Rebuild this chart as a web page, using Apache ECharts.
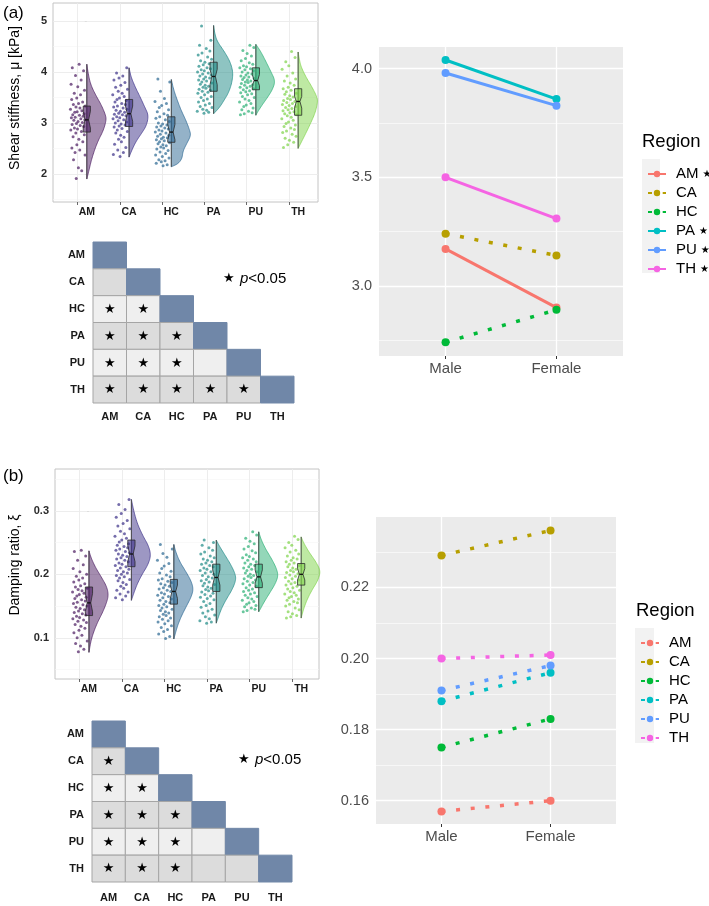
<!DOCTYPE html>
<html lang="en">
<head>
<meta charset="UTF-8">
<title>Regional shear stiffness and damping ratio</title>
<script src="https://cdn.jsdelivr.net/npm/echarts@6/dist/echarts.min.js"></script>
<style>
  html, body { margin: 0; padding: 0; background: #fff; }
  #chart { width: 709px; height: 906px; }
</style>
</head>
<body>
<div id="chart"></div>
<script>
// ---------------- data ----------------
var regions = ['AM', 'CA', 'HC', 'PA', 'PU', 'TH'];
var sexes = ['Male', 'Female'];

// (a) shear stiffness [kPa] - notched box stats
var stiffQ1 = [2.82, 2.93, 2.62, 3.62, 3.65, 3.15];
var stiffMed = [3.06, 3.18, 2.82, 3.91, 3.83, 3.42];
var stiffQ3 = [3.33, 3.46, 3.12, 4.19, 4.08, 3.67];
var stiffNotchLo = [2.90, 3.03, 2.67, 3.75, 3.73, 3.29];
var stiffNotchHi = [3.23, 3.33, 2.97, 4.05, 3.95, 3.52];
// half violin outline, top to bottom: [value, relative width]
var stiffViolin = [
  [[4.15,0],[3.95,0.08],[3.75,0.2],[3.55,0.45],[3.35,0.75],[3.15,0.97],[3.05,1],[2.85,0.85],[2.65,0.58],[2.45,0.38],[2.25,0.22],[2.05,0.1],[1.9,0]],
  [[4.08,0],[3.9,0.1],[3.7,0.32],[3.5,0.58],[3.3,0.82],[3.15,1],[2.95,0.9],[2.8,0.65],[2.65,0.38],[2.5,0.18],[2.33,0]],
  [[3.85,0],[3.65,0.12],[3.45,0.3],[3.25,0.5],[3.05,0.75],[2.85,0.95],[2.75,1],[2.6,0.8],[2.45,0.6],[2.3,0.55],[2.2,0.35],[2.14,0]],
  [[4.91,0],[4.75,0.06],[4.6,0.18],[4.4,0.55],[4.2,0.85],[4.0,1],[3.8,0.95],[3.6,0.78],[3.45,0.55],[3.3,0.3],[3.18,0]],
  [[4.54,0],[4.4,0.25],[4.2,0.52],[4.0,0.78],[3.82,1],[3.65,0.85],[3.5,0.6],[3.35,0.32],[3.22,0.1],[3.15,0]],
  [[4.39,0],[4.25,0.06],[4.1,0.15],[3.9,0.4],[3.7,0.72],[3.5,0.98],[3.4,1],[3.2,0.88],[3.0,0.65],[2.8,0.4],[2.65,0.2],[2.5,0]]
];
var stiffPoints = [
  [4.15,4.08,4.02,3.93,3.84,3.76,3.71,3.64,3.58,3.55,3.49,3.46,3.41,3.38,3.36,3.33,3.31,3.29,3.27,3.24,3.22,3.21,3.18,3.16,3.15,3.13,3.11,3.10,3.08,3.06,3.05,3.03,3.01,2.99,2.97,2.95,2.93,2.90,2.88,2.86,2.83,2.80,2.77,2.73,2.68,2.63,2.57,2.51,2.47,2.42,2.37,2.28,2.12,2.06,1.91],
  [4.08,3.98,3.92,3.88,3.84,3.79,3.74,3.70,3.66,3.62,3.58,3.55,3.52,3.49,3.46,3.44,3.41,3.38,3.36,3.33,3.31,3.29,3.27,3.25,3.23,3.21,3.19,3.17,3.16,3.14,3.12,3.10,3.08,3.06,3.04,3.02,3.00,2.98,2.96,2.94,2.92,2.89,2.86,2.83,2.80,2.76,2.72,2.68,2.63,2.58,2.52,2.47,2.42,2.38,2.34],
  [3.86,3.80,3.62,3.48,3.42,3.38,3.34,3.30,3.26,3.22,3.18,3.15,3.12,3.09,3.06,3.03,3.00,2.98,2.96,2.94,2.92,2.90,2.88,2.86,2.84,2.82,2.80,2.78,2.76,2.74,2.72,2.71,2.69,2.67,2.65,2.63,2.61,2.59,2.57,2.55,2.53,2.51,2.49,2.46,2.43,2.40,2.37,2.34,2.31,2.28,2.26,2.24,2.21,2.18,2.16],
  [4.90,4.62,4.52,4.46,4.41,4.37,4.33,4.29,4.25,4.22,4.19,4.16,4.14,4.11,4.08,4.06,4.04,4.02,4.00,3.98,3.96,3.94,3.92,3.90,3.88,3.86,3.84,3.82,3.80,3.78,3.76,3.74,3.72,3.70,3.68,3.66,3.64,3.62,3.60,3.58,3.55,3.52,3.50,3.47,3.44,3.41,3.38,3.35,3.32,3.30,3.27,3.25,3.23,3.21,3.19],
  [4.52,4.48,4.42,4.36,4.31,4.26,4.22,4.18,4.15,4.12,4.10,4.08,4.06,4.04,4.02,4.00,3.98,3.96,3.94,3.92,3.90,3.89,3.87,3.85,3.84,3.82,3.80,3.79,3.77,3.75,3.74,3.72,3.70,3.69,3.67,3.65,3.63,3.61,3.59,3.57,3.55,3.52,3.50,3.47,3.44,3.41,3.38,3.35,3.32,3.29,3.26,3.23,3.20,3.18,3.16],
  [4.40,4.28,4.20,4.12,4.05,3.98,3.92,3.86,3.82,3.78,3.74,3.70,3.67,3.64,3.61,3.58,3.56,3.53,3.51,3.48,3.46,3.44,3.42,3.40,3.38,3.36,3.34,3.32,3.30,3.28,3.26,3.24,3.22,3.20,3.18,3.16,3.14,3.11,3.08,3.05,3.02,2.99,2.96,2.93,2.90,2.87,2.84,2.81,2.78,2.74,2.70,2.66,2.62,2.57,2.52]
];
var stiffMale = [3.17, 3.24, 2.74, 4.04, 3.98, 3.50];
var stiffFemale = [2.90, 3.14, 2.89, 3.86, 3.83, 3.31];
var stiffSexSig = [true, false, false, true, true, true];
// lower triangle of pairwise tests (row vs earlier columns), 1 = p<0.05
var stiffPairSig = [[], [0], [1, 1], [1, 1, 1], [1, 1, 1, 0], [1, 1, 1, 1, 1]];

// (b) damping ratio
var dampQ1 = [0.135, 0.212, 0.153, 0.173, 0.179, 0.183];
var dampMed = [0.155, 0.232, 0.173, 0.195, 0.196, 0.200];
var dampQ3 = [0.180, 0.254, 0.192, 0.216, 0.216, 0.217];
var dampNotchLo = [0.141, 0.220, 0.162, 0.183, 0.186, 0.191];
var dampNotchHi = [0.170, 0.245, 0.183, 0.207, 0.207, 0.209];
var dampViolin = [
  [[0.237,0],[0.225,0.12],[0.21,0.35],[0.195,0.65],[0.18,0.92],[0.167,1],[0.155,0.9],[0.14,0.7],[0.125,0.45],[0.11,0.25],[0.095,0.1],[0.077,0]],
  [[0.318,0],[0.30,0.12],[0.28,0.3],[0.26,0.6],[0.245,0.88],[0.23,1],[0.215,0.85],[0.20,0.55],[0.185,0.3],[0.17,0.12],[0.159,0]],
  [[0.247,0],[0.235,0.1],[0.22,0.3],[0.205,0.6],[0.19,0.88],[0.177,1],[0.165,0.9],[0.15,0.65],[0.135,0.4],[0.12,0.2],[0.105,0.06],[0.098,0]],
  [[0.254,0],[0.245,0.15],[0.23,0.45],[0.215,0.75],[0.20,0.98],[0.19,1],[0.175,0.8],[0.16,0.5],[0.145,0.25],[0.13,0.08],[0.123,0]],
  [[0.267,0],[0.255,0.12],[0.24,0.35],[0.225,0.65],[0.21,0.9],[0.198,1],[0.185,0.85],[0.17,0.55],[0.155,0.25],[0.145,0.08],[0.141,0]],
  [[0.259,0],[0.25,0.12],[0.235,0.4],[0.22,0.75],[0.205,1],[0.19,0.85],[0.175,0.55],[0.16,0.3],[0.145,0.12],[0.131,0]]
];
var dampPoints = [
  [0.238,0.236,0.229,0.222,0.215,0.209,0.204,0.200,0.197,0.194,0.191,0.188,0.185,0.182,0.180,0.178,0.176,0.174,0.172,0.170,0.168,0.166,0.164,0.162,0.160,0.158,0.156,0.154,0.152,0.150,0.148,0.146,0.144,0.142,0.140,0.138,0.136,0.134,0.132,0.130,0.128,0.126,0.124,0.121,0.118,0.115,0.112,0.108,0.104,0.100,0.095,0.091,0.087,0.082,0.078],
  [0.318,0.310,0.302,0.296,0.290,0.285,0.280,0.276,0.272,0.268,0.264,0.260,0.257,0.254,0.251,0.248,0.246,0.244,0.242,0.240,0.238,0.236,0.234,0.232,0.230,0.228,0.226,0.224,0.222,0.220,0.218,0.216,0.214,0.212,0.210,0.208,0.206,0.204,0.202,0.200,0.198,0.196,0.194,0.192,0.190,0.187,0.184,0.181,0.178,0.175,0.172,0.169,0.166,0.163,0.160],
  [0.247,0.240,0.233,0.227,0.222,0.217,0.213,0.209,0.205,0.202,0.199,0.196,0.193,0.191,0.189,0.187,0.185,0.183,0.181,0.179,0.177,0.175,0.173,0.171,0.169,0.167,0.165,0.163,0.161,0.159,0.157,0.155,0.153,0.151,0.149,0.147,0.145,0.143,0.141,0.139,0.137,0.135,0.133,0.131,0.129,0.127,0.125,0.122,0.119,0.116,0.113,0.110,0.106,0.102,0.099],
  [0.254,0.250,0.246,0.242,0.238,0.235,0.232,0.229,0.226,0.224,0.222,0.220,0.218,0.216,0.214,0.212,0.210,0.208,0.206,0.204,0.202,0.200,0.198,0.196,0.194,0.192,0.190,0.188,0.186,0.184,0.182,0.180,0.178,0.176,0.174,0.172,0.170,0.168,0.166,0.164,0.162,0.160,0.157,0.154,0.151,0.148,0.145,0.142,0.139,0.136,0.133,0.130,0.127,0.125,0.123],
  [0.267,0.262,0.257,0.252,0.248,0.244,0.240,0.237,0.234,0.231,0.228,0.226,0.224,0.222,0.220,0.218,0.216,0.214,0.212,0.210,0.208,0.206,0.204,0.202,0.200,0.198,0.197,0.195,0.193,0.191,0.189,0.187,0.185,0.183,0.181,0.179,0.177,0.175,0.173,0.171,0.169,0.167,0.165,0.163,0.161,0.159,0.157,0.155,0.153,0.151,0.149,0.147,0.145,0.143,0.141],
  [0.260,0.255,0.250,0.246,0.242,0.238,0.235,0.232,0.229,0.226,0.224,0.222,0.220,0.218,0.216,0.214,0.212,0.210,0.208,0.206,0.204,0.203,0.201,0.199,0.197,0.195,0.193,0.191,0.189,0.187,0.185,0.183,0.181,0.179,0.177,0.175,0.173,0.171,0.169,0.167,0.165,0.163,0.161,0.159,0.157,0.155,0.153,0.150,0.147,0.144,0.141,0.138,0.135,0.133,0.131]
];
var dampMale = [0.157, 0.229, 0.175, 0.188, 0.191, 0.200];
var dampFemale = [0.160, 0.236, 0.183, 0.196, 0.198, 0.201];
var dampSexSig = [false, false, false, false, false, false];
var dampPairSig = [[], [1], [1, 1], [1, 1, 1], [1, 1, 1, 0], [1, 1, 1, 0, 0]];

// ---------------- styling ----------------
var rainColors = ['#4A1A60', '#3B2F88', '#2A6692', '#1E8A86', '#29AF74', '#7ED348'];
var hueColors = ['#F8766D', '#B79F00', '#00BA38', '#00BFC4', '#619CFF', '#F564E3'];
// hand-typed horizontal jitter for the raw points (fraction of the cloud width)
var jitter = [0.42,0.87,0.13,0.66,0.29,0.95,0.51,0.07,0.74,0.33,0.58,0.91,0.19,0.46,0.80,0.02,0.63,0.37,0.99,0.24,
  0.55,0.71,0.10,0.84,0.40,0.16,0.68,0.93,0.31,0.05,0.77,0.49,0.21,0.60,0.88,0.35,0.12,0.73,0.53,0.97,
  0.27,0.64,0.08,0.82,0.44,0.18,0.57,0.90,0.38,0.69,0.03,0.79,0.47,0.25,0.61];
var VIOLIN_W = 0.46, BOX_W = 0.085;
var FONT = '"Liberation Sans", Arial, sans-serif';

function rgba(hex, a) {
  var n = parseInt(hex.slice(1), 16);
  return 'rgba(' + (n >> 16) + ',' + ((n >> 8) & 255) + ',' + (n & 255) + ',' + a + ')';
}

// corner cutting, only used to round the violin outline when drawing
function chaikin(pts, iter) {
  for (var k = 0; k < iter; k++) {
    var out = [pts[0]];
    for (var j = 0; j < pts.length - 1; j++) {
      var a = pts[j], b = pts[j + 1];
      out.push([0.75 * a[0] + 0.25 * b[0], 0.75 * a[1] + 0.25 * b[1]]);
      out.push([0.25 * a[0] + 0.75 * b[0], 0.25 * a[1] + 0.75 * b[1]]);
    }
    out.push(pts[pts.length - 1]);
    pts = out;
  }
  return pts;
}

function gridLineSeries(idx, lines) {
  return {
    type: 'line', xAxisIndex: idx, yAxisIndex: idx, data: [], silent: true, z: 1,
    markLine: { silent: true, z: 1, symbol: 'none', animation: false, label: { show: false }, data: lines }
  };
}

function rainSeries(idx, S, majors, minors) {
  var list = [];
  var lines = [];
  majors.forEach(function (v) { lines.push({ yAxis: v, lineStyle: { color: '#EBEBEB', width: 0.9, type: 'solid' } }); });
  minors.forEach(function (v) { lines.push({ yAxis: v, lineStyle: { color: '#F5F5F5', width: 0.6, type: 'solid' } }); });
  regions.forEach(function (r, i) { lines.push({ xAxis: i - 0.22, lineStyle: { color: '#EBEBEB', width: 0.9, type: 'solid' } }); });
  list.push(gridLineSeries(idx, lines));

  S.points.forEach(function (vals, g) {
    list.push({
      type: 'scatter', xAxisIndex: idx, yAxisIndex: idx, z: 2, silent: true,
      symbolSize: 3, itemStyle: { color: rainColors[g], opacity: 0.7 },
      data: vals.map(function (v, k) { return [g - 0.03 - 0.36 * jitter[(k + 7 * g) % jitter.length], v]; })
    });
  });

  list.push({
    type: 'custom', xAxisIndex: idx, yAxisIndex: idx, z: 3, silent: true,
    data: regions.map(function (r, i) { return [i, S.med[i]]; }),
    renderItem: function (params, api) {
      var i = params.dataIndex, col = rainColors[i];
      var prof = S.violin[i];
      var outline = chaikin(prof.map(function (p) { return api.coord([i + p[1] * VIOLIN_W, p[0]]); }), 3);
      var top = api.coord([i, prof[0][0]]), bot = api.coord([i, prof[prof.length - 1][0]]);
      var hb = BOX_W, hn = BOX_W * 0.5;
      var box = [[i - hb, S.q3[i]], [i + hb, S.q3[i]], [i + hb, S.hi[i]], [i + hn, S.med[i]], [i + hb, S.lo[i]],
        [i + hb, S.q1[i]], [i - hb, S.q1[i]], [i - hb, S.lo[i]], [i - hn, S.med[i]], [i - hb, S.hi[i]]]
        .map(function (p) { return api.coord(p); });
      var m0 = api.coord([i - hn, S.med[i]]), m1 = api.coord([i + hn, S.med[i]]);
      return {
        type: 'group', children: [
          { type: 'polygon', shape: { points: outline }, style: { fill: rgba(col, 0.5), stroke: rgba(col, 0.85), lineWidth: 0.8 } },
          { type: 'line', shape: { x1: top[0], y1: top[1], x2: bot[0], y2: bot[1] }, style: { stroke: '#505050', lineWidth: 1 } },
          { type: 'polygon', shape: { points: box }, style: { fill: rgba(col, 0.6), stroke: '#2b2b2b', lineWidth: 0.8 } },
          { type: 'line', shape: { x1: m0[0], y1: m0[1], x2: m1[0], y2: m1[1] }, style: { stroke: '#111', lineWidth: 1.3 } }
        ]
      };
    }
  });
  return list;
}

function sexSeries(idx, suffix, male, female, sig, majors, minors) {
  var list = [];
  var lines = [];
  majors.forEach(function (v) { lines.push({ yAxis: v, lineStyle: { color: '#fff', width: 1.3, type: 'solid' } }); });
  minors.forEach(function (v) { lines.push({ yAxis: v, lineStyle: { color: '#fff', width: 0.6, type: 'solid' } }); });
  [0, 1].forEach(function (v) { lines.push({ xAxis: v, lineStyle: { color: '#fff', width: 1.3, type: 'solid' } }); });
  list.push(gridLineSeries(idx, lines));
  regions.forEach(function (r, i) {
    list.push({
      name: r + suffix, type: 'line', xAxisIndex: idx, yAxisIndex: idx, z: 3,
      symbol: 'circle', symbolSize: 8, silent: true,
      itemStyle: { color: hueColors[i], borderWidth: 0, opacity: 1 },
      lineStyle: { color: hueColors[i], width: sig[i] ? 3 : 3.5, type: sig[i] ? 'solid' : [4, 10.7], cap: 'butt' },
      data: [[0, male[i]], [1, female[i]]]
    });
  });
  return list;
}

function pairCells(sig) {
  var out = [];
  for (var r = 0; r < regions.length; r++) {
    for (var c = 0; c <= r; c++) {
      var kind = c === r ? 0 : (r % 2 === 1 ? 1 : 2);
      out.push([c, r, kind, c < r && sig[r][c] ? 1 : 0]);
    }
  }
  return out;
}

function cellSeries(idx, sig) {
  return {
    type: 'custom', xAxisIndex: idx, yAxisIndex: idx, silent: true,
    data: pairCells(sig),
    renderItem: function (params, api) {
      var p = api.coord([api.value(0), api.value(1)]);
      var s = api.size([1, 1]);
      var kind = api.value(2);
      var fill = kind === 0 ? '#7087A8' : (kind === 1 ? '#DCDCDC' : '#EFEFEF');
      var kids = [{
        type: 'rect', shape: { x: p[0] - s[0] / 2, y: p[1] - s[1] / 2, width: s[0], height: s[1] },
        style: { fill: fill, stroke: kind === 0 ? '#7087A8' : '#A5A5A5', lineWidth: 1 }
      }];
      if (api.value(3)) {
        kids.push({ type: 'text', x: p[0], y: p[1] + 0.5,
          style: { text: '\u2605', fill: '#000', font: '13px "DejaVu Sans"', align: 'center', verticalAlign: 'middle', textAlign: 'center', textVerticalAlign: 'middle' } });
      }
      return { type: 'group', children: kids };
    }
  };
}

// ---------------- axes ----------------
function rainX(idx) {
  return {
    gridIndex: idx, type: 'value', min: -0.8, max: idx === 0 ? 5.47 : 5.42,
    axisLine: { show: false }, splitLine: { show: false },
    axisTick: { show: true, customValues: regions.map(function (r, i) { return i - 0.22; }), length: 3, lineStyle: { color: '#444', width: 0.8 } },
    axisLabel: { customValues: [0, 1, 2, 3, 4, 5], formatter: function (v) { return regions[Math.round(v)]; },
      color: '#1a1a1a', fontSize: 10.5, fontWeight: 'bold', margin: 5, fontFamily: FONT }
  };
}
function rainY(idx, min, max, labels) {
  return {
    gridIndex: idx, type: 'value', min: min, max: max,
    axisLine: { show: false }, splitLine: { show: false },
    axisTick: { show: true, customValues: labels, length: 2, lineStyle: { color: '#444', width: 0.8 } },
    axisLabel: { customValues: labels, formatter: function (v) { return String(v); },
      color: '#2a2a2a', fontSize: 11, fontWeight: 'bold', margin: 6, fontFamily: FONT }
  };
}
function sexX(idx) {
  return {
    gridIndex: idx, type: 'value', min: -0.6, max: 1.6,
    axisLine: { show: false }, splitLine: { show: false },
    axisTick: { show: true, customValues: [0, 1], length: 3, lineStyle: { color: '#333' } },
    axisLabel: { customValues: [0, 1], formatter: function (v) { return sexes[Math.round(v)]; },
      color: '#4D4D4D', fontSize: 15, margin: 5, fontFamily: FONT }
  };
}
function sexY(idx, min, max, labels, digits) {
  return {
    gridIndex: idx, type: 'value', min: min, max: max,
    axisLine: { show: false }, splitLine: { show: false },
    axisTick: { show: true, customValues: labels, length: 3, lineStyle: { color: '#333' } },
    axisLabel: { customValues: labels, formatter: function (v) { return v.toFixed(digits); },
      color: '#4D4D4D', fontSize: 14.5, margin: 7, fontFamily: FONT }
  };
}
function pairX(idx, margin) {
  return {
    gridIndex: idx, type: 'category', data: regions, position: 'bottom',
    axisLine: { show: false }, axisTick: { show: false }, splitLine: { show: false },
    axisLabel: { color: '#1a1a1a', fontSize: 11, fontWeight: 'bold', margin: margin, fontFamily: FONT }
  };
}
function pairY(idx) {
  return {
    gridIndex: idx, type: 'category', data: regions, inverse: true,
    axisLine: { show: false }, axisTick: { show: false }, splitLine: { show: false },
    axisLabel: { color: '#1a1a1a', fontSize: 11, fontWeight: 'bold', margin: 8, fontFamily: FONT }
  };
}

function legendFor(suffix, sig, left, top) {
  return {
    data: regions.map(function (r) { return r + suffix; }),
    orient: 'vertical', left: left, top: top, itemWidth: 18, itemHeight: 8, itemGap: 4,
    selectedMode: false, z: 5,
    formatter: function (name) {
      var i = regions.indexOf(name.split('_')[0]);
      return '{n|' + regions[i] + '}' + (sig[i] ? '{s|\u2605}' : '');
    },
    textStyle: {
      fontSize: 15, lineHeight: 15, color: '#000', fontFamily: FONT,
      rich: {
        n: { fontSize: 15, lineHeight: 15, color: '#000', fontFamily: FONT, padding: [0, 0, 0, 5] },
        s: { fontSize: 10, lineHeight: 15, color: '#000', fontFamily: '"DejaVu Sans"', padding: [0, 0, 0, 4] }
      }
    }
  };
}

function txt(x, y, text, font, extra) {
  var o = { type: 'text', x: x, y: y, silent: true,
    style: { text: text, font: font, fill: '#000', align: 'left', verticalAlign: 'middle', textAlign: 'left', textVerticalAlign: 'middle' } };
  if (extra) { for (var k in extra) { o[k] = extra[k]; } }
  return o;
}
function vtxt(x, y, text) {
  return { type: 'text', x: x, y: y, rotation: Math.PI / 2, silent: true,
    style: { text: text, font: '14px ' + FONT, fill: '#000', align: 'center', verticalAlign: 'middle', textAlign: 'center', textVerticalAlign: 'middle' } };
}
function pLegend(x, y) {
  return [
    txt(x - 6, y, '\u2605', '13px "DejaVu Sans"'),
    { type: 'text', x: x + 11, y: y, silent: true,
      style: { text: '{i|p}<0.05', font: '15px ' + FONT, fill: '#000', verticalAlign: 'middle', textVerticalAlign: 'middle',
        rich: { i: { fontStyle: 'italic', fontSize: 15, fontFamily: FONT, fill: '#000' } } } }
  ];
}

var stiffStats = { q1: stiffQ1, med: stiffMed, q3: stiffQ3, lo: stiffNotchLo, hi: stiffNotchHi, violin: stiffViolin, points: stiffPoints };
var dampStats = { q1: dampQ1, med: dampMed, q3: dampQ3, lo: dampNotchLo, hi: dampNotchHi, violin: dampViolin, points: dampPoints };

var option = {
  animation: false,
  backgroundColor: '#fff',
  textStyle: { fontFamily: FONT },
  grid: [
    { left: 53, top: 3, width: 265, height: 199, show: true, backgroundColor: '#fff', borderColor: '#C4C4C4', borderWidth: 1, outerBoundsMode: 'none' },
    { left: 379, top: 47, width: 244, height: 309, show: true, backgroundColor: '#EBEBEB', borderWidth: 0, outerBoundsMode: 'none' },
    { left: 55, top: 469, width: 264, height: 210, show: true, backgroundColor: '#fff', borderColor: '#C4C4C4', borderWidth: 1, outerBoundsMode: 'none' },
    { left: 376, top: 517, width: 240, height: 307, show: true, backgroundColor: '#EBEBEB', borderWidth: 0, outerBoundsMode: 'none' },
    { left: 93, top: 242, width: 201, height: 161, outerBoundsMode: 'none' },
    { left: 92, top: 721, width: 200, height: 161, outerBoundsMode: 'none' }
  ],
  xAxis: [rainX(0), sexX(1), rainX(2), sexX(3), pairX(4, 8), pairX(5, 10)],
  yAxis: [
    rainY(0, 1.45, 5.35, [2, 3, 4, 5]),
    sexY(1, 2.677, 4.10, [3.0, 3.5, 4.0], 1),
    rainY(2, 0.035, 0.366, [0.1, 0.2, 0.3]),
    sexY(3, 0.15345, 0.2398, [0.16, 0.18, 0.20, 0.22], 2),
    pairY(4),
    pairY(5)
  ],
  legend: [
    legendFor('_a', stiffSexSig, 642, 161.5),
    legendFor('_b', dampSexSig, 635, 630.5)
  ],
  graphic: [
    { type: 'rect', z: 0, silent: true, shape: { x: 642, y: 159, width: 18, height: 114 }, style: { fill: '#F2F2F2' } },
    { type: 'rect', z: 0, silent: true, shape: { x: 635, y: 628, width: 19, height: 115 }, style: { fill: '#F2F2F2' } },
    txt(3, 13, '(a)', '17px ' + FONT),
    txt(3, 476, '(b)', '17px ' + FONT),
    vtxt(15, 98, 'Shear stiffness, \u03bc [kPa]'),
    vtxt(15, 565, 'Damping ratio, \u03be'),
    txt(642, 142, 'Region', '18.5px ' + FONT),
    txt(636, 611, 'Region', '18.5px ' + FONT)
  ].concat(pLegend(229, 279), pLegend(244, 760)),
  series: [].concat(
    rainSeries(0, stiffStats, [2, 3, 4, 5], [1.5, 2.5, 3.5, 4.5]),
    sexSeries(1, '_a', stiffMale, stiffFemale, stiffSexSig, [3.0, 3.5, 4.0], [2.75, 3.25, 3.75]),
    rainSeries(2, dampStats, [0.1, 0.2, 0.3], [0.05, 0.15, 0.25, 0.35]),
    sexSeries(3, '_b', dampMale, dampFemale, dampSexSig, [0.16, 0.18, 0.20, 0.22], [0.17, 0.19, 0.21, 0.23]),
    [cellSeries(4, stiffPairSig), cellSeries(5, dampPairSig)]
  )
};

var chart = echarts.init(document.getElementById('chart'), null, { renderer: 'canvas' });
chart.setOption(option);
</script>
</body>
</html>
